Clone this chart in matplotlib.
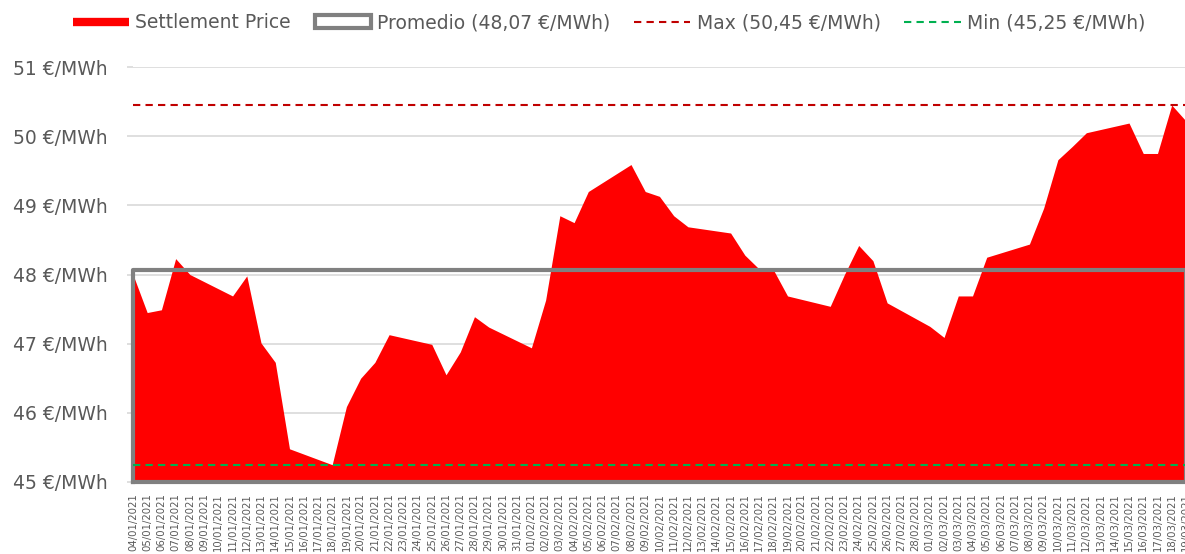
import pandas as pd
import matplotlib.pyplot as plt
import matplotlib.dates as mdates
from matplotlib.patches import Patch
from matplotlib.lines import Line2D

plt.rcParams['font.family'] = ['DejaVu Sans']

# trading days only, weekends are bridged by the area
dates = pd.bdate_range('2021-01-04', '2021-03-19')
prices = [48.00, 47.45, 47.49, 48.23, 48.00,
          47.69, 47.98, 47.01, 46.73, 45.48,
          45.25, 46.09, 46.50, 46.73, 47.13,
          46.99, 46.55, 46.88, 47.39, 47.24,
          46.94, 47.63, 48.85, 48.75, 49.20,
          49.59, 49.20, 49.13, 48.85, 48.69,
          48.60, 48.28, 48.08, 48.07, 47.69,
          47.54, 48.00, 48.42, 48.20, 47.59,
          47.25, 47.09, 47.69, 47.69, 48.25,
          48.44, 48.96, 49.66, 49.85, 50.05,
          50.19, 49.75, 49.75, 50.45, 50.22]

avg_price = 48.07
max_price = 50.45
min_price = 45.25

y_ticks = [45, 46, 47, 48, 49, 50, 51]
y_min, y_max = 45, 51

grey_text = '#595959'
grid_col = '#D9D9D9'

fig = plt.figure(figsize=(11.85, 5.54), dpi=100)
ax = fig.add_axes([0.1122, 0.130, 0.8886, 0.749])

# settlement price area
ax.fill_between(dates, y_min, prices, color='#FF0000', linewidth=0, zorder=2)

# average as a hollow box
ax.plot([dates[0], dates[0], dates[-1], dates[-1], dates[0]],
        [y_min, avg_price, avg_price, y_min, y_min],
        color='#808080', lw=3, zorder=3, clip_on=False)

# max / min lines
ax.axhline(max_price, color='#C00000', lw=1.5, ls=(0, (3.5, 2.5)), zorder=4)
ax.axhline(min_price, color='#00B050', lw=1.5, ls=(0, (3.5, 2.5)), zorder=4)

ax.set_xlim(dates[0], dates[-1])
ax.set_ylim(y_min, y_max)
ax.set_yticks(y_ticks)
ax.set_yticklabels([f'{v} €/MWh' for v in y_ticks])

ax.xaxis.set_major_locator(mdates.DayLocator())
ax.xaxis.set_major_formatter(mdates.DateFormatter('%d/%m/%Y'))
ax.tick_params(axis='x', labelrotation=90, labelsize=7.3, labelcolor=grey_text,
               length=0, pad=8)
ax.tick_params(axis='y', labelsize=13.5, labelcolor=grey_text, color=grid_col,
               width=1.2, length=4.5, pad=14)

ax.grid(axis='y', color=grid_col, lw=1.2)
ax.set_axisbelow(True)
for s in ['top', 'right', 'left']:
    ax.spines[s].set_visible(False)
ax.spines['bottom'].set_color(grid_col)

# legend
handles = [
    Line2D([0], [0], color='#FF0000', lw=6, solid_capstyle='butt'),
    Patch(facecolor='white', edgecolor='#808080', linewidth=3),
    Line2D([0], [0], color='#C00000', lw=1.5, ls=(0, (3.5, 2.5))),
    Line2D([0], [0], color='#00B050', lw=1.5, ls=(0, (3.5, 2.5))),
]
labels = ['Settlement Price',
          'Promedio (48,07 €/MWh)',
          'Max (50,45 €/MWh)',
          'Min (45,25 €/MWh)']
leg = fig.legend(handles, labels, loc='upper center', bbox_to_anchor=(0.514, 1.0),
                 ncol=4, frameon=False, fontsize=13.5, handlelength=3.0,
                 handletextpad=0.35, columnspacing=1.25, borderaxespad=0.3)
for t in leg.get_texts():
    t.set_color(grey_text)

fig.savefig('out.png', dpi=100)
